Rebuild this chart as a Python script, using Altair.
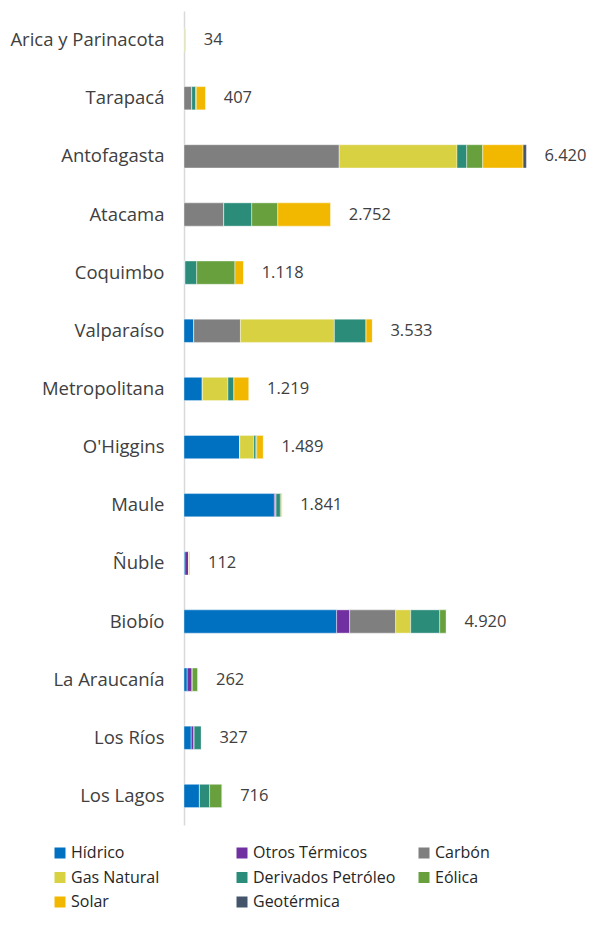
import altair as alt
import pandas as pd

regions = ["Arica y Parinacota", "Tarapacá", "Antofagasta", "Atacama", "Coquimbo",
           "Valparaíso", "Metropolitana", "O'Higgins", "Maule", "Ñuble", "Biobío",
           "La Araucanía", "Los Ríos", "Los Lagos"]
categories = ["Hídrico", "Otros Térmicos", "Carbón", "Gas Natural",
              "Derivados Petróleo", "Eólica", "Solar", "Geotérmica"]
colors = ["#0070C0", "#7030A0", "#7F7F7F", "#D8D243", "#2B8C7A", "#67A03D", "#F2B800", "#44546A"]

hidrico = [0, 0, 0, 0, 19, 182, 344, 1045, 1695, 18, 2862, 60, 135, 290]
otros = [0, 0, 0, 0, 0, 0, 0, 0, 31, 72, 244, 95, 55, 0]
carbon = [0, 145, 2910, 745, 0, 876, 0, 0, 0, 0, 863, 0, 0, 0]
gas = [0, 0, 2209, 0, 0, 1762, 480, 263, 0, 0, 282, 0, 0, 0]
derivados = [14, 75, 182, 525, 219, 594, 113, 40, 81, 0, 544, 0, 137, 190]
eolica = [0, 10, 300, 488, 717, 0, 0, 16, 24, 0, 125, 107, 0, 236]
solar = [20, 177, 757, 994, 163, 119, 282, 125, 10, 22, 0, 0, 0, 0]
geotermica = [0, 0, 62, 0, 0, 0, 0, 0, 0, 0, 0, 0, 0, 0]
totals = [34, 407, 6420, 2752, 1118, 3533, 1219, 1489, 1841, 112, 4920, 262, 327, 716]

series = [hidrico, otros, carbon, gas, derivados, eolica, solar, geotermica]
rows = []
for ci, (cat, vals) in enumerate(zip(categories, series)):
    for r, v in zip(regions, vals):
        rows.append({"region": r, "tipo": cat, "orden": ci, "valor": v})
df = pd.DataFrame(rows)

tot_df = pd.DataFrame({
    "region": regions,
    "total": totals,
    "label": [f"{t:,}".replace(",", ".") for t in totals],
})

FONT = "Open Sans"
x_scale = alt.Scale(domain=[0, 7125], nice=False, zero=True)
y_enc = alt.Y("region:N", sort=regions, title=None,
              scale=alt.Scale(paddingInner=0.6, paddingOuter=0.3),
              axis=alt.Axis(ticks=False, labelFont=FONT, labelFontSize=18.5,
                            labelColor="#404040", labelPadding=20,
                            domainColor="#d9d9d9", domainWidth=1.5,
                            grid=False, labelLimit=300))

bars = alt.Chart(df).mark_bar(stroke="#ffffff", strokeWidth=0.4).encode(
    x=alt.X("valor:Q", stack="zero", scale=x_scale, axis=None),
    y=y_enc,
    color=alt.Color("tipo:N", sort=categories,
                    scale=alt.Scale(domain=categories, range=colors),
                    legend=alt.Legend(title=None, orient="none", legendX=-132, legendY=834,
                                      direction="horizontal",
                                      columns=3, gridAlign="all", columnPadding=20,
                                      rowPadding=8.5, labelFont=FONT, labelFontSize=16,
                                      labelColor="#262626", symbolType="square",
                                      symbolSize=121, symbolStrokeWidth=0,
                                      labelOffset=3, labelLimit=250)),
    order=alt.Order("orden:Q"),
)

text = alt.Chart(tot_df).mark_text(align="left", baseline="middle", dx=18,
                                   font=FONT, fontSize=16.5, color="#404040").encode(
    x=alt.X("total:Q", scale=x_scale, axis=None),
    y=alt.Y("region:N", sort=regions),
    text="label:N",
)

chart = alt.layer(bars, text).properties(
    width=380, height=814,
    autosize=alt.AutoSizeParams(type="none"),
    padding={"left": 176, "top": 3, "right": 22, "bottom": 88},
).configure_view(stroke=None)

chart.save("out.html", embed_options={"renderer": "svg", "actions": False})
